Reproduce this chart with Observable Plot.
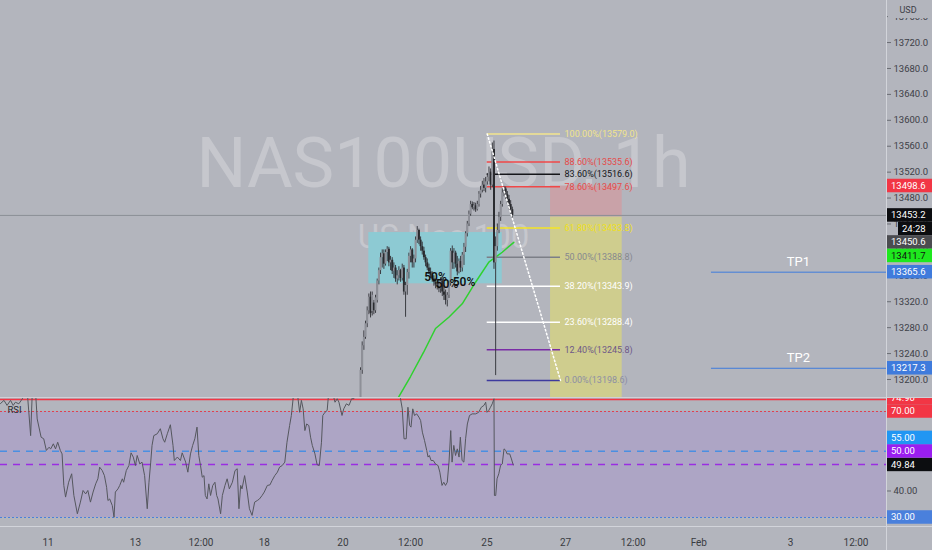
<!DOCTYPE html>
<html><head><meta charset="utf-8">
<script src="https://cdn.jsdelivr.net/npm/d3@7"></script>
<script src="https://cdn.jsdelivr.net/npm/@observablehq/plot@0.6"></script>
<style>
html,body{margin:0;padding:0;background:#b3b5bd;}
#chart{width:932px;height:550px;position:relative;overflow:hidden;background:#b3b5bd;}
#chart svg{display:block;}
.sep{position:absolute;background:#d2d4da;}
</style></head><body><div id="chart"></div>
<script>
const FONT = "Roboto, 'Liberation Sans', sans-serif";
const W = 932;
// time in trading days from Jan 11 00:00
const xMin = -1.09, xMax = 19.198;
const priceMin = 13172.2, priceMax = 13784.9;
const rsiMin = 26.6, rsiMax = 74.906;

const timeTicks = [0, 2, 3.5, 4.95, 6.75, 8.3, 10.05, 11.85, 13.4, 14.9, 17, 18.5];
const timeLabels = ["11", "13", "12:00", "18", "20", "12:00", "25", "27", "12:00", "Feb", "3", "12:00"];
const priceTicks = [13200, 13240, 13280, 13320, 13360, 13400, 13440, 13480, 13520, 13560, 13600, 13640, 13680, 13720, 13760];

// hourly candles
const candleStart = 7.154, candleStep = 0.0382;
const opens = [13150,13214,13252,13265,13286,13306,13327,13305,13318,13306,13322,13352,13368,13388,13394,13378,13396,13401,13380,13384,13367,13372,13355,13360,13368,13356,13372,13335,13345,13365,13390,13400,13380,13386,13415,13430,13415,13405,13398,13388,13380,13372,13366,13360,13355,13350,13346,13343,13340,13352,13335,13330,13322,13330,13348,13398,13380,13395,13378,13366,13382,13372,13392,13404,13425,13440,13455,13470,13465,13468,13462,13470,13486,13492,13500,13495,13505,13512,13520,13500,13555,13380,13405,13430,13450,13470,13488,13494,13485,13478,13470,13462];
const highs = [13218,13258,13275,13290,13312,13332,13335,13335,13322,13330,13355,13372,13395,13400,13400,13400,13405,13404,13390,13388,13380,13376,13368,13374,13370,13378,13376,13350,13370,13395,13405,13402,13392,13420,13436,13432,13420,13412,13404,13392,13386,13378,13372,13366,13360,13355,13352,13352,13357,13355,13345,13338,13334,13352,13402,13406,13402,13398,13390,13386,13390,13396,13410,13428,13444,13460,13475,13474,13473,13472,13475,13490,13498,13506,13510,13512,13518,13528,13525,13565,13568,13420,13440,13458,13475,13495,13498,13497,13490,13484,13476,13466];
const lows = [13140,13208,13245,13262,13280,13300,13295,13298,13300,13302,13318,13346,13362,13372,13370,13375,13382,13374,13368,13362,13356,13350,13346,13352,13350,13352,13330,13296,13330,13355,13380,13372,13372,13380,13410,13408,13398,13392,13384,13374,13368,13362,13356,13350,13344,13340,13338,13334,13333,13328,13322,13315,13312,13325,13344,13370,13370,13372,13360,13363,13365,13366,13376,13396,13420,13436,13452,13462,13460,13458,13460,13466,13480,13488,13490,13488,13500,13505,13492,13496,13370,13206,13398,13425,13444,13466,13482,13478,13470,13462,13455,13448];
const closes = [13214,13252,13265,13286,13306,13327,13302,13330,13306,13326,13352,13368,13388,13394,13378,13396,13401,13380,13384,13367,13372,13355,13360,13368,13356,13372,13335,13345,13365,13390,13400,13380,13386,13415,13430,13415,13405,13398,13388,13380,13372,13366,13360,13355,13350,13346,13343,13340,13352,13335,13330,13322,13330,13348,13398,13380,13395,13378,13366,13382,13372,13392,13404,13425,13440,13455,13470,13465,13468,13462,13470,13486,13492,13500,13495,13505,13512,13520,13500,13555,13380,13405,13430,13450,13470,13488,13494,13485,13478,13470,13462,13453.2];

// moving average (green)
const maT = [7.795, 7.994, 8.299, 8.596, 8.871, 9.176, 9.483, 9.788, 10.092, 10.245, 10.399, 10.664];
const maV = [13144.4, 13169.1, 13204.6, 13241.7, 13278.7, 13296.1, 13316.8, 13350.1, 13381.0, 13388.7, 13396.4, 13411.7];

// RSI
const rsiT = [-1.09,-1.01,-0.94,-0.86,-0.80,-0.75,-0.67,-0.59,-0.48,-0.40,-0.36,-0.29,-0.25,-0.16,-0.10,-0.04,0.02,0.06,0.12,0.17,0.22,0.28,0.32,0.36,0.40,0.47,0.54,0.59,0.67,0.74,0.80,0.86,0.91,0.97,1.03,1.09,1.14,1.18,1.24,1.29,1.34,1.37,1.41,1.47,1.51,1.54,1.60,1.64,1.70,1.73,1.79,1.85,1.90,1.95,2.00,2.04,2.10,2.15,2.21,2.27,2.31,2.35,2.38,2.42,2.50,2.57,2.63,2.67,2.73,2.80,2.86,2.89,2.96,3.03,
3.07,3.15,3.20,3.26,3.31,3.36,3.41,3.45,3.49,3.53,3.57,3.60,3.64,3.68,3.72,3.77,3.82,3.86,3.89,3.95,3.99,4.05,4.10,4.15,4.22,4.28,4.33,4.37,4.41,4.44,4.50,4.56,4.61,4.67,4.73,4.79,4.84,4.90,4.95,5.02,5.08,5.13,5.19,5.25,5.30,5.36,5.42,5.47,5.53,5.57,5.63,5.70,5.76,5.80,5.84,5.88,5.92,5.97,6.01,6.05,6.11,6.16,6.21,6.26,6.29,6.34,6.39,6.43,6.50,6.57,6.62,6.66,6.73,6.77,6.83,6.89,6.95,7.00,7.04,7.3,7.6,7.9,
8.03,8.07,8.11,8.15,8.20,8.24,8.28,8.31,8.35,8.39,8.44,8.49,8.53,8.57,8.62,8.67,8.70,8.73,8.77,8.82,8.87,8.93,8.97,9.02,9.06,9.10,9.14,9.18,9.22,9.25,9.29,9.33,9.37,9.41,9.44,9.48,9.52,9.56,9.60,9.65,9.71,9.79,9.86,9.92,9.98,10.02,10.05,10.09,10.13,10.17,10.21,10.22,10.25,10.28,10.32,10.36,10.40,10.44,10.48,10.51,10.57,10.61,10.65];
const rsiV = [73.0,74.2,72.3,74.2,72.3,73.5,72.9,74.8,78,60.9,78,78,67.2,60.3,59.7,55.3,56.5,55.9,57.8,55.9,58.4,55.3,54.0,42.1,37.7,43.3,46.5,38.3,31.4,35.8,40.2,38.9,40.2,35.8,39.6,42.7,44.6,49.0,47.7,45.8,41.4,36.4,37.0,34.5,30.1,39.6,40.8,42.1,44.6,43.3,47.7,49.6,54.4,52.8,49.6,53.4,50.2,50.9,45.8,33.3,43.3,50.9,57.2,60.9,61.6,63.5,59.7,58.4,61.6,65.0,57.2,51.5,52.8,51.5,
54.4,50.9,47.1,54.0,57.2,59.7,64.1,53.4,49.6,45.2,45.8,38.3,37.0,42.7,38.3,42.1,43.3,38.3,37.0,31.4,38.3,42.1,44.6,40.8,43.3,47.7,48.4,33.3,42.1,40.8,45.8,39.6,33.3,30.8,35.8,36.4,37.0,38.3,39.6,42.1,42.3,44.0,45.8,47.1,49.0,49.6,50.9,58.4,64.7,68.5,78,78,69.7,74.2,71.0,62.8,65.3,64.7,60.3,57.2,54.0,49.9,49.6,58.4,68.5,69.7,70.4,78,78,73.5,74.8,73.5,68.5,71.0,72.9,72.3,74.8,74.8,78,82,84,80,
78,74.8,71.0,59.7,59.7,71.6,64.7,64.1,71.0,68.5,69.1,67.9,66.6,62.2,59.0,55.3,52.8,53.4,51.5,51.5,50.2,49.6,47.1,42.1,43.3,42.1,43.3,50.9,62.8,50.9,57.2,53.4,55.9,52.8,60.3,51.5,50.9,59.7,65.3,68.5,69.1,69.1,69.7,71.6,72.3,73.5,69.7,70.4,71.6,72.9,74.8,38.3,38.3,44.6,46.5,49.6,50.2,55.9,55.3,54.0,54.0,52.1,49.84];

// Fibonacci retracement
const fibLevels = [1, 0.886, 0.836, 0.786, 0.618, 0.5, 0.382, 0.236, 0.124, 0];
const fibPrices = [13579.0, 13535.6, 13516.6, 13497.6, 13433.8, 13388.8, 13343.9, 13288.4, 13245.8, 13198.6];
const fibColors = ["#f3e68e", "#f04848", "#15161a", "#f04848", "#f4e424", "#7c7f87", "#ffffff", "#ffffff", "#7a2ca6", "#3d3a9e"];
const fibTextColors = ["#f1e48c", "#e64a4a", "#15161a", "#e64a4a", "#f0e01c", "#86888f", "#ffffff", "#ffffff", "#6e5888", "#8c8ea4"];
const fibStart = 10.055, fibEnd = 11.733, fibLabelT = 11.826;

const zoneT = [7.344, 10.399], zoneP = [13347.7, 13426.8];
const posT = [11.505, 13.146];
const stopPrice = 13498.6, entryPrice = 13450.6, targetPrice = 13150;
const lastPrice = 13453.2, countdown = "24:28", maLast = 13411.7;
const tpNames = ["TP1", "TP2"], tpPrices = [13365.6, 13217.3];
const tpStart = 15.19, tpLabelT = 17.18;
const halfT = [8.871, 9.134, 9.524], halfP = [13357.4, 13346.6, 13349.7];
const rsiLevels = [74.9, 70, 55, 50, 30];
const rsiLast = 49.84;

// ---- build rows ----
const candles = opens.map((o, i) => ({t: candleStart + i * candleStep, o, h: highs[i], l: lows[i], c: closes[i]}));
const ma = maT.map((t, i) => ({t, v: maV[i]}));
const rsiRows = rsiT.map((t, i) => ({t, v: rsiV[i]}));
const fib = fibLevels.map((l, i) => ({
  p: fibPrices[i], t1: fibStart, t2: fibEnd, lt: fibLabelT, c: fibColors[i], tc: fibTextColors[i],
  label: (l * 100).toFixed(2) + "%(" + fibPrices[i].toFixed(1) + ")"
}));
const tps = tpNames.map((n, i) => ({name: n, p: tpPrices[i], t1: tpStart, t2: xMax, lt: tpLabelT}));
const halves = halfT.map((t, i) => ({t, p: halfP[i]}));

const price = Plot.plot({
  width: W, height: 397,
  marginLeft: 0, marginRight: 46, marginTop: 0, marginBottom: 0,
  style: {background: "transparent", fontFamily: FONT, color: "#3d4047", fontSize: "9.5px"},
  x: {domain: [xMin, xMax], axis: null, label: null},
  y: {domain: [priceMin, priceMax], label: null},
  color: {type: "identity"},
  marks: [
    Plot.text(["NAS100USD, 1h"], {frameAnchor: "middle", dy: -34, fontSize: 70, fill: "#ffffff", fillOpacity: 0.25, fontFamily: FONT}),
    Plot.text(["US Nas 100"], {frameAnchor: "middle", dy: 38, fontSize: 33, fill: "#ffffff", fillOpacity: 0.25, fontFamily: FONT}),
    Plot.rect([{x1: zoneT[0], x2: zoneT[1], y1: zoneP[0], y2: zoneP[1]}], {x1: "x1", x2: "x2", y1: "y1", y2: "y2", fill: "#8dcad3"}),
    Plot.rect([{x1: posT[0], x2: posT[1], y1: entryPrice, y2: stopPrice}], {x1: "x1", x2: "x2", y1: "y1", y2: "y2", fill: "#c9a2a8", clip: true}),
    Plot.rect([{x1: posT[0], x2: posT[1], y1: targetPrice, y2: entryPrice}], {x1: "x1", x2: "x2", y1: "y1", y2: "y2", fill: "#cfcd8e", clip: true}),
    Plot.ruleY([lastPrice], {stroke: "#8c8f97", strokeWidth: 1}),
    Plot.ruleY(fib, {y: "p", x1: "t1", x2: "t2", stroke: "c", strokeWidth: 1.5}),
    Plot.ruleY(tps, {y: "p", x1: "t1", x2: "t2", stroke: "#3f7bdc", strokeWidth: 1}),
    Plot.line(ma, {x: "t", y: "v", stroke: "#2fd12f", strokeWidth: 1.5, clip: true}),
    Plot.ruleX(candles, {x: "t", y1: "l", y2: "h", stroke: "#3a3b40", strokeWidth: 1, clip: true}),
    Plot.ruleX(candles, {x: "t", y1: "o", y2: "c", stroke: d => d.c >= d.o ? "#8e9098" : "#2a2b2f", strokeWidth: 2, clip: true}),
    Plot.line([{t: fibStart, p: fibPrices[0]}, {t: fibEnd, p: fibPrices[fibPrices.length - 1]}], {x: "t", y: "p", stroke: "#ffffff", strokeWidth: 1.5, strokeDasharray: "1.5,2.5"}),
    Plot.text(fib, {x: "lt", y: "p", text: "label", fill: "tc", textAnchor: "start", fontSize: 9}),
    Plot.text(halves, {x: "t", y: "p", text: () => "50%", fill: "#111", fontSize: 12, fontWeight: 600}),
    Plot.text(tps, {x: "lt", y: "p", text: "name", dy: -10, fill: "#ffffff", fontSize: 13}),
    Plot.axisY(priceTicks, {anchor: "right", tickSize: 4, tickPadding: 3, fontSize: 9.5, tickFormat: d => d.toFixed(1), stroke: "#6a6d74", fill: "#3d4047"})
  ]
});

const rsi = Plot.plot({
  width: W, height: 152,
  marginLeft: 0, marginRight: 46, marginTop: 0, marginBottom: 24,
  style: {background: "transparent", fontFamily: FONT, color: "#3d4047", fontSize: "10px"},
  x: {domain: [xMin, xMax], label: null},
  y: {domain: [rsiMin, rsiMax], label: null},
  marks: [
    Plot.rect([{x1: xMin, x2: xMax, y1: rsiLevels[4], y2: rsiLevels[1]}], {x1: "x1", x2: "x2", y1: "y1", y2: "y2", fill: "#ada5c5"}),
    Plot.ruleY([rsiLevels[0]], {stroke: "#f23645", strokeWidth: 1.5, dy: 1}),
    Plot.ruleY([rsiLevels[1]], {stroke: "#e0414e", strokeWidth: 1, strokeDasharray: "2,2"}),
    Plot.ruleY([rsiLevels[2]], {stroke: "#4a8fe2", strokeWidth: 1.5, strokeDasharray: "7,6"}),
    Plot.ruleY([rsiLevels[3]], {stroke: "#9a2ee2", strokeWidth: 1.5, strokeDasharray: "7,6"}),
    Plot.ruleY([rsiLevels[4]], {stroke: "#4a80dc", strokeWidth: 1.2, strokeDasharray: "2,2"}),
    Plot.line(rsiRows, {x: "t", y: "v", stroke: "#55575e", strokeWidth: 1, clip: true}),
    Plot.text(["RSI"], {frameAnchor: "top-left", dx: 7, dy: 8, fontSize: 9.5, fill: "#2a2b30"}),
    Plot.axisX(timeTicks, {tickSize: 0, tickPadding: 12, fontSize: 10, tickFormat: d => timeLabels[timeTicks.indexOf(d)], fill: "#3a3c42"}),
    Plot.axisY([40], {anchor: "right", tickSize: 4, tickPadding: 3, fontSize: 9.5, tickFormat: d => d.toFixed(2), stroke: "#6a6d74", fill: "#3d4047"})
  ]
});

function scaleFn(plot, name) {
  const s = plot.scale(name);
  return s.apply ? (v => s.apply(v)) : d3.scaleLinear(s.domain, s.range);
}

function drawBadges(svg, items) {
  const g = d3.select(svg).append("g").attr("font-family", FONT).attr("font-size", 9.5).attr("text-anchor", "start");
  for (const b of items) {
    const dx = b.dx || 0;
    g.append("rect").attr("x", 887 + dx).attr("y", b.y - 6.75).attr("width", 45 - dx).attr("height", 13.5).attr("fill", b.bg);
    g.append("text").attr("x", 891 + dx).attr("y", b.y).attr("dy", "0.35em").attr("text-anchor", "start").attr("fill", b.fg).text(b.text);
  }
}

// price badges, pushed down on collision
const py = scaleFn(price, "y");
const pItems = [
  {v: stopPrice, text: stopPrice.toFixed(1), bg: "#f23645", fg: "#fff"},
  {v: lastPrice, text: lastPrice.toFixed(1), bg: "#0c0d10", fg: "#fff"},
  {v: lastPrice, text: countdown, bg: "#0c0d10", fg: "#fff", below: true, dx: 11},
  {v: entryPrice, text: entryPrice.toFixed(1), bg: "#4b4c50", fg: "#fff"},
  {v: maLast, text: maLast.toFixed(1), bg: "#1ee81e", fg: "#111"},
  {v: tpPrices[0], text: tpPrices[0].toFixed(1), bg: "#3f7bdc", fg: "#fff"},
  {v: tpPrices[1], text: tpPrices[1].toFixed(1), bg: "#3f7bdc", fg: "#fff"}
];
let prev = -Infinity;
for (const b of pItems) {
  let y = py(b.v);
  if (b.below) y = prev + 13.5;
  y = Math.max(y, prev + 13.5);
  b.y = y; prev = y;
}
drawBadges(price, pItems);
// USD caption
const ug = d3.select(price).append("g");
ug.append("rect").attr("x", 888).attr("y", 2).attr("width", 42).attr("height", 16).attr("fill", "#b3b5bd");
ug.append("text").attr("x", 908).attr("y", 10).attr("dy", "0.35em").attr("text-anchor", "middle")
  .attr("font-family", FONT).attr("font-size", 9).attr("fill", "#3d4047").text("USD");

// RSI badges, pushed up on collision
const ry = scaleFn(rsi, "y");
const rItems = [
  {v: rsiLevels[4], text: rsiLevels[4].toFixed(2), bg: "#4a80dc", fg: "#fff"},
  {v: rsiLast, text: rsiLast.toFixed(2), bg: "#0c0d10", fg: "#fff"},
  {v: rsiLevels[3], text: rsiLevels[3].toFixed(2), bg: "#9a1ef0", fg: "#fff"},
  {v: rsiLevels[2], text: rsiLevels[2].toFixed(2), bg: "#2196f3", fg: "#fff"},
  {v: rsiLevels[1], text: rsiLevels[1].toFixed(2), bg: "#f23645", fg: "#fff"},
  {v: rsiLevels[0], text: rsiLevels[0].toFixed(2), bg: "#f23645", fg: "#fff"}
];
let prevR = Infinity;
for (const b of rItems) {
  const y = Math.min(ry(b.v), prevR - 13.5);
  b.y = y; prevR = y;
}
drawBadges(rsi, rItems);

const chart = document.getElementById("chart");
chart.appendChild(price);
const mid = document.createElement("div");
mid.style.cssText = "height:1px;background:#cfd1d7;";
chart.appendChild(mid);
chart.appendChild(rsi);
const v = document.createElement("div");
v.className = "sep"; v.style.cssText = "left:886px;top:0;width:1px;height:550px;";
chart.appendChild(v);
const hb = document.createElement("div");
hb.className = "sep"; hb.style.cssText = "left:0;top:526px;width:932px;height:1px;";
chart.appendChild(hb);
</script></body></html>
